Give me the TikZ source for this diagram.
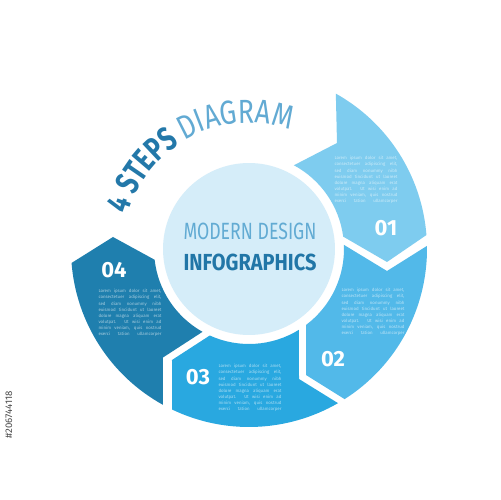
\documentclass[tikz,border=0pt]{standalone}
\usepackage{fontspec}
\setmainfont{Fira Sans}
\newfontfamily\condfont[FakeStretch=0.74]{Fira Sans}
\newfontfamily\thinfont[FakeStretch=0.8]{Fira Sans}
\usepackage{graphicx}
\usetikzlibrary{decorations.text}

\definecolor{stepone}{HTML}{7ECCEF}
\definecolor{steptwo}{HTML}{52B9E9}
\definecolor{stepthree}{HTML}{29A8E0}
\definecolor{stepfour}{HTML}{1F7FAE}
\definecolor{hubfill}{HTML}{D5EDF9}
\definecolor{titledark}{HTML}{2378A9}
\definecolor{titlelight}{HTML}{62AAD3}
\definecolor{hubdark}{HTML}{2176A7}
\definecolor{hublight}{HTML}{62ABD3}

\newcommand{\lline}[1]{\makebox[1.26cm][s]{#1}\\}
\newcommand{\lorem}{%
  \lline{Lorem ipsum dolor sit amet,}
  \lline{consectetuer adipiscing elit,}
  \lline{sed diam nonummy nibh}
  \lline{euismod tincidunt ut laoreet}
  \lline{dolore magna aliquam erat}
  \lline{volutpat. Ut wisi enim ad}
  \lline{minim veniam, quis nostrud}
  \makebox[1.26cm][s]{exerci tation ullamcorper}}

\tikzset{
  lorem/.style={text=white, text opacity=0.6, inner sep=0pt, align=left,
    font=\fontsize{2.5}{3.5}\selectfont},
  stepnum/.style={text=white, inner sep=0pt,
    font=\bfseries\fontsize{12.5}{14}\selectfont}
}

\begin{document}
\begin{tikzpicture}[x=0.02cm, y=0.02cm]

  \def\ro{178}
  \def\ri{95}

  \useasboundingbox[fill=white] (-249,-251) rectangle (251,249);

  % ring segments, clockwise from the top
  \fill[stepone] (60.8:\ro) arc[start angle=60.8, end angle=4.5, radius=\ro]
    -- (138,-13) -- (7.5:\ri) arc[start angle=7.5, end angle=61.8, radius=\ri]
    -- (88,106) -- cycle;
  \fill[steptwo] (1:\ro) arc[start angle=1, end angle=-57.5, radius=\ro]
    -- (57,-126) -- (-53.1:\ri) arc[start angle=-53.1, end angle=2.5, radius=\ri]
    -- (138,-22) -- cycle;
  \fill[stepthree] (-60:\ro) arc[start angle=-60, end angle=-115.6, radius=\ro]
    -- (-77,-111) -- (-114.4:\ri) arc[start angle=-114.4, end angle=-58.25, radius=\ri]
    -- (50,-130) -- cycle;
  \fill[stepfour] (-118.9:\ro) arc[start angle=-118.9, end angle=-175.5, radius=\ro]
    -- (-136,12) -- (-173.5:\ri) arc[start angle=-173.5, end angle=-119.3, radius=\ri]
    -- (-86,-108.5) -- cycle;

  \node (hub) [circle, fill=hubfill, minimum size=3.44cm, inner sep=0pt] at (0,0) {};
  \node (modern) [text=hublight, inner sep=0pt] at (1,17.5)
    {\resizebox{2.66cm}{0.33cm}{\thinfont MODERN DESIGN}};
  \node (info) [text=hubdark, inner sep=0pt] at (1,-13.5)
    {\resizebox{2.66cm}{0.33cm}{\bfseries INFOGRAPHICS}};

  % step numbers and texts
  \node (n01) [stepnum] at (137,21) {01};
  \node (n02) [stepnum] at (84,-110.5) {02};
  \node (n03) [stepnum] at (-51,-128) {03};
  \node (n04) [stepnum] at (-135,-21) {04};

  \node (t01) [lorem] at (117,69) {\lorem};
  \node (t02) [lorem] at (124,-63) {\lorem};
  \node (t03) [lorem] at (1,-139) {\lorem};
  \node (t04) [lorem] at (-119,-64) {\lorem};

  % title along the open part of the ring
  \path[decorate, decoration={text along path, text align=center,
      text={|\fontsize{19}{21}\condfont\bfseries\color{titledark}|4 STEPS
        |\fontsize{19}{21}\thinfont\color{titlelight}|DIAGRAM}}]
    (164:126) arc[start angle=164, end angle=71, radius=126];

  \node (stockid) [rotate=90, text=black!70, inner sep=0pt,
    font=\fontsize{5.5}{6}\selectfont] at (-240,-166) {\#206744118};

\end{tikzpicture}
\end{document}
